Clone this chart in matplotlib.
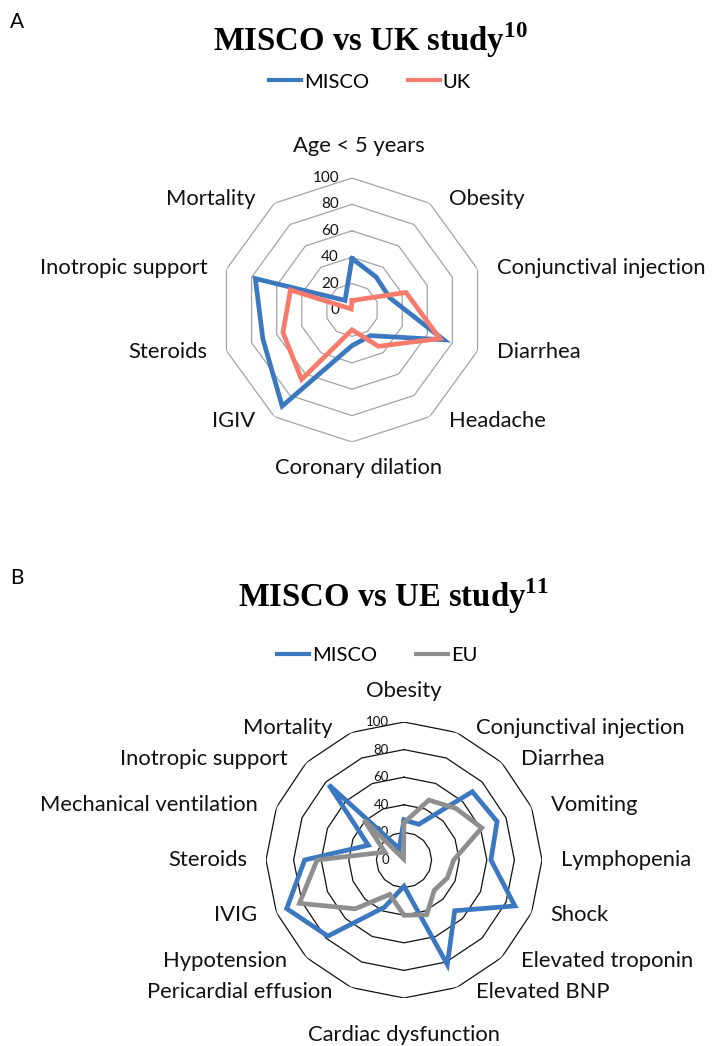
import matplotlib.pyplot as plt
import numpy as np
from matplotlib.transforms import offset_copy

# panel A: MISCO vs UK study
UK_CATEGORIES = [
    "Age < 5 years", "Obesity", "Conjunctival injection", "Diarrhea", "Headache",
    "Coronary dilation", "IGIV", "Steroids", "Inotropic support", "Mortality",
]
UK_MISCO = [39, 31, 30, 73, 24, 27, 90, 71, 77, 9]
UK_STUDY = [7, 10, 43, 70, 34, 15, 65, 55, 49, 1]

# panel B: MISCO vs EU study
EU_CATEGORIES = [
    "Obesity", "Conjunctival injection", "Diarrhea", "Vomiting", "Lymphopenia",
    "Shock", "Elevated troponin", "Elevated BNP", "Cardiac dysfunction",
    "Pericardial effusion", "Hypotension", "IVIG", "Steroids",
    "Mechanical ventilation", "Inotropic support", "Mortality",
]
EU_MISCO = [29, 28, 70, 73, 63, 87, 52, 82, 19, 37, 78, 92, 72, 28, 77, 9]
EU_STUDY = [27, 47, 53, 61, 36, 34, 31, 43, 40, 27, 50, 82, 63, 15, 41, 1]

RING_TICKS = [0, 20, 40, 60, 80, 100]

BLUE = "#3b78bf"
SALMON = "#f77b6c"
GREY = "#8e8e8e"

W, H = 712, 1046

plt.rcParams.update(
    {
        "font.family": ["Lato", "DejaVu Sans"],
        "mathtext.fontset": "custom",
        "mathtext.rm": "Liberation Serif",
        "mathtext.bf": "Liberation Serif:bold",
    }
)


def radar(fig, cx, cy, rad, categories, series, grid_color, tick_size, tick_dx,
          top_gap, bottom_gap, center_dx=0):
    ax = fig.add_axes([(cx - rad) / W, (H - cy - rad) / H, 2 * rad / W, 2 * rad / H],
                      projection="polar")
    ax.set_theta_offset(np.pi / 2)
    ax.set_theta_direction(-1)
    ax.set_ylim(0, 100)
    ax.grid(False)
    ax.set_xticks([])
    ax.set_yticks([])
    ax.spines["polar"].set_visible(False)
    ax.patch.set_alpha(0)

    n = len(categories)
    theta = np.arange(n) * 2 * np.pi / n
    closed = np.append(theta, theta[0])
    for r in RING_TICKS[1:]:
        ax.plot(closed, [r] * (n + 1), color=grid_color, lw=0.9, zorder=1)

    # radial tick labels, stacked along the upward spoke (axes fraction)
    tick_tr = offset_copy(ax.transAxes, fig=fig, x=tick_dx, y=0, units="dots")
    for r in RING_TICKS:
        ax.text(0.5, 0.5 + 0.5 * r / 100, str(r), transform=tick_tr, ha="right",
                va="center", fontsize=tick_size, color="#111111", clip_on=False, zorder=2)

    for values, color in series:
        ax.plot(closed, np.append(values, values[0]), color=color, lw=3.4,
                solid_joinstyle="miter", zorder=3)

    # category labels sit a fixed pixel gap outside the outer ring vertex
    for t, lab in zip(theta, categories):
        s, c = np.sin(t), np.cos(t)
        if abs(s) < 0.1:
            ha, dx, dy = "center", center_dx, (top_gap if c > 0 else -bottom_gap)
        else:
            ha, dx, dy = ("left" if s > 0 else "right"), 19 * np.sign(s), 5 * c
        tr = offset_copy(ax.transData, fig=fig, x=dx, y=dy, units="dots")
        ax.text(t, 100, lab, transform=tr, ha=ha, va="center", fontsize=15.8,
                color="#111111", clip_on=False)
    return ax


def legend(fig, x, y, entries):
    handles = [plt.Line2D([], [], color=c, lw=3) for _, c in entries]
    fig.legend(handles, [l for l, _ in entries], loc="center", bbox_to_anchor=(x / W, 1 - y / H),
               ncol=2, frameon=False, fontsize=14.5, handlelength=1.6, handletextpad=0.15,
               columnspacing=1.9)


fig = plt.figure(figsize=(W / 100, H / 100), dpi=100)

fig.text(10 / W, 1 - 22 / H, "A", fontsize=15, ha="left", va="center")
fig.text(370 / W, 1 - 40 / H, r"MISCO vs UK study$^{\mathbf{10}}$", fontsize=23.6,
         family="Liberation Serif", weight="bold", ha="center", va="center")
legend(fig, 370, 82, [("MISCO", BLUE), ("UK", SALMON)])
radar(fig, 352, 310, 132, UK_CATEGORIES, [(UK_MISCO, BLUE), (UK_STUDY, SALMON)],
      "#a3a3a3", 11, -13, 32, 26, center_dx=7)

fig.text(10 / W, 1 - 578 / H, "B", fontsize=15, ha="left", va="center")
fig.text(393 / W, 1 - 596 / H, r"MISCO vs UE study$^{\mathbf{11}}$", fontsize=23.6,
         family="Liberation Serif", weight="bold", ha="center", va="center")
legend(fig, 377, 655, [("MISCO", BLUE), ("EU", GREY)])
radar(fig, 404, 860, 138, EU_CATEGORIES, [(EU_MISCO, BLUE), (EU_STUDY, GREY)],
      "#111111", 9.5, -15, 31, 37)

fig.savefig("out.png", dpi=100)
